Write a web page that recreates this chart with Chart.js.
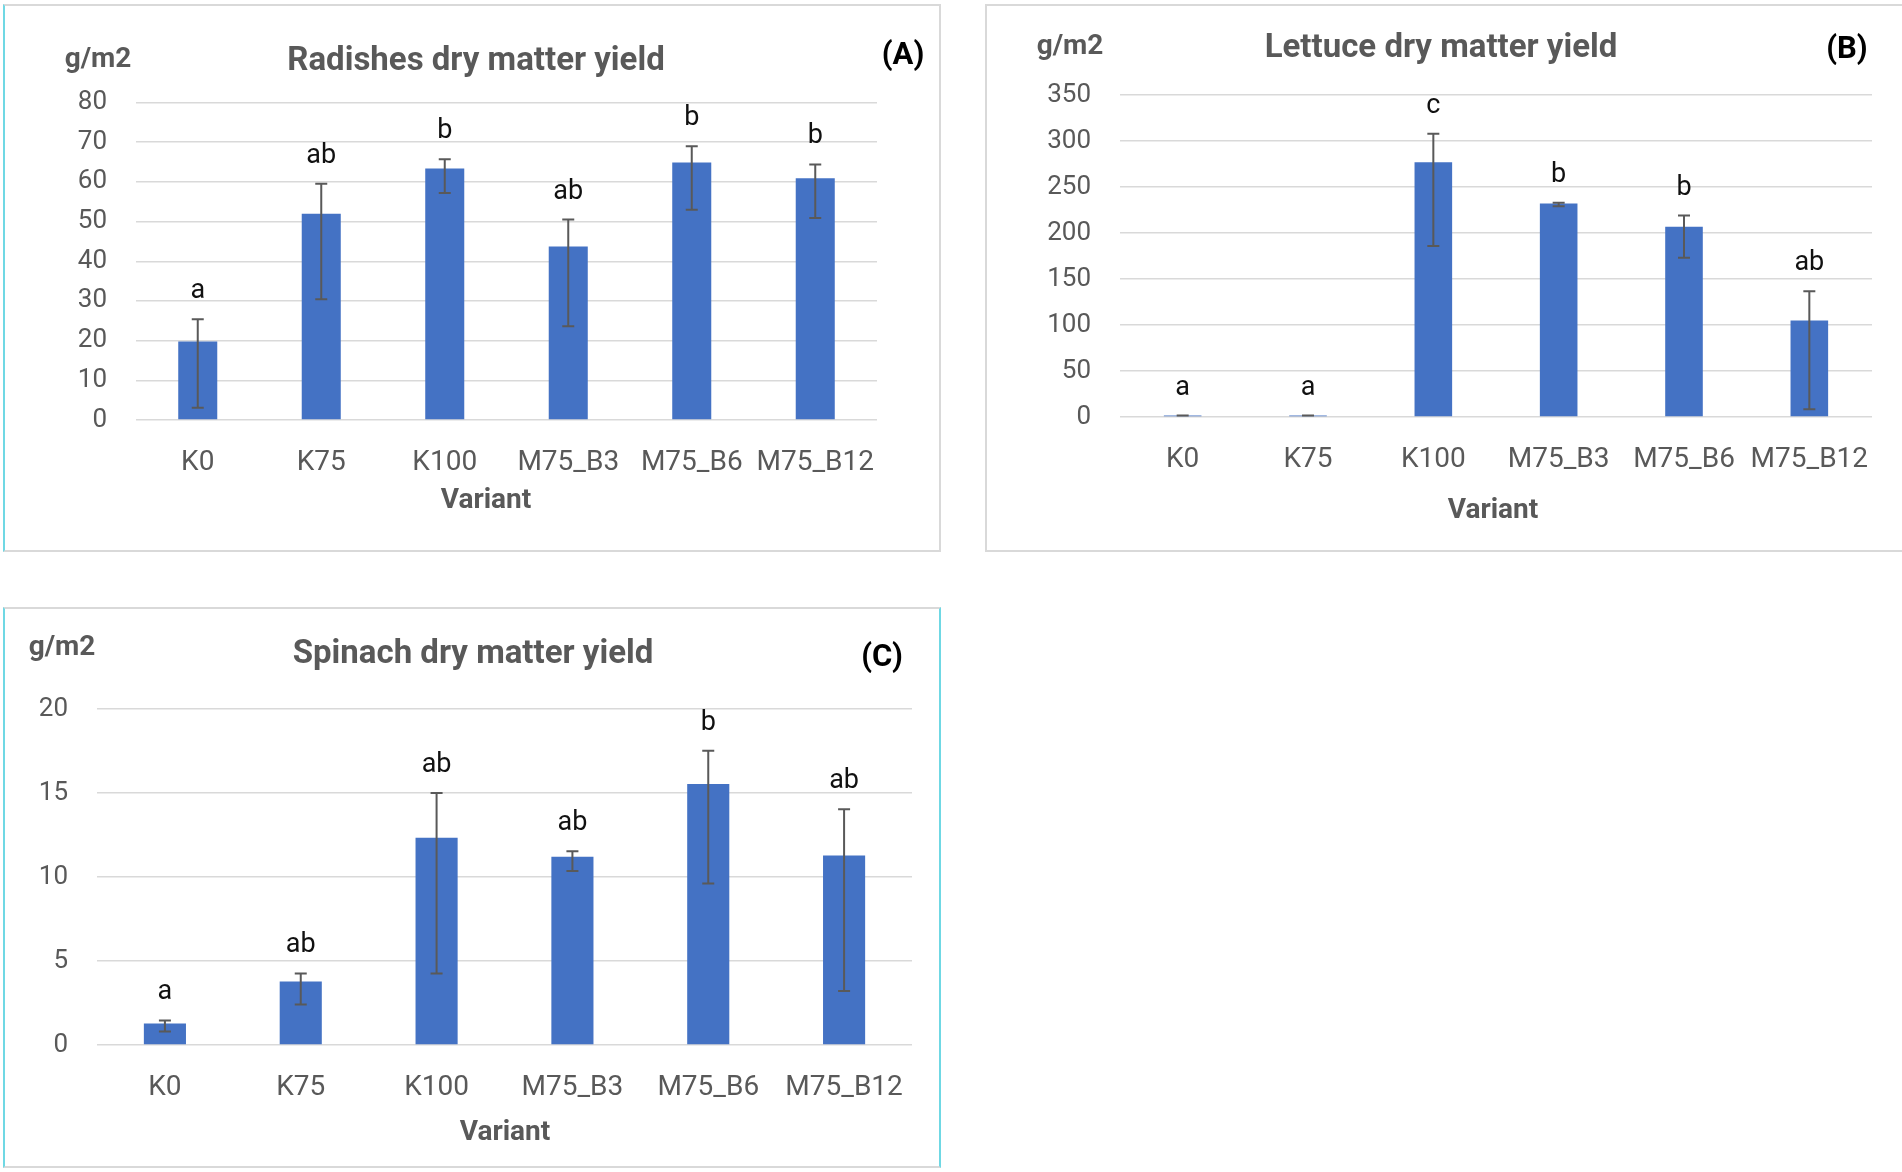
<!DOCTYPE html>
<html>
<head>
<meta charset="utf-8">
<script src="https://cdn.jsdelivr.net/npm/chart.js@4.4.1/dist/chart.umd.min.js"></script>
<style>
  body { margin: 0; background: #fff; width: 1902px; height: 1172px; position: relative; overflow: hidden; }
  .panel { position: absolute; box-sizing: border-box; border: 2px solid #d9d9d9; background: #fff; }
  .panel canvas { display: block; }
</style>
</head>
<body>
<div class="panel" style="left:3px;top:4px;width:938px;height:548px;border-left-color:#6fd8e4;">
  <canvas id="chartA" width="934" height="544"></canvas>
</div>
<div class="panel" style="left:985px;top:4px;width:917px;height:548px;border-right:none;">
  <canvas id="chartB" width="915" height="544"></canvas>
</div>
<div class="panel" style="left:3px;top:607px;width:938px;height:561px;border-left-color:#6fd8e4;border-right-color:#6fd8e4;">
  <canvas id="chartC" width="934" height="557"></canvas>
</div>
<script>
var FONT = 'Roboto, "Liberation Sans", sans-serif';

var variants = ['K0', 'K75', 'K100', 'M75_B3', 'M75_B6', 'M75_B12'];

// (A) radishes
var radishMean = [19.8, 52.0, 63.4, 43.7, 64.9, 60.9];
var radishLow = [3.1, 30.4, 57.2, 23.6, 53.0, 50.9];
var radishHigh = [25.4, 59.5, 65.7, 50.5, 69.0, 64.4];
var radishLetters = ['a', 'ab', 'b', 'ab', 'b', 'b'];
var radishAxis = { max: 80, step: 10 };

// (B) lettuce
var lettuceMean = [1.5, 1.5, 277, 232, 206.7, 105];
var lettuceLow = [1.5, 1.5, 186, 229, 173, 8.5];
var lettuceHigh = [1.5, 1.5, 308, 233, 219, 136.8];
var lettuceLetters = ['a', 'a', 'c', 'b', 'b', 'ab'];
var lettuceAxis = { max: 350, step: 50 };

// (C) spinach
var spinachMean = [1.28, 3.78, 12.33, 11.2, 15.54, 11.28];
var spinachLow = [0.80, 2.41, 4.26, 10.35, 9.61, 3.22];
var spinachHigh = [1.46, 4.26, 15.0, 11.54, 17.52, 14.04];
var spinachLetters = ['a', 'ab', 'ab', 'ab', 'b', 'ab'];
var spinachAxis = { max: 20, step: 5 };

// error bars, significance letters and the header / axis texts
var decorPlugin = {
    id: 'decor',
    afterDatasetsDraw: function (chart, args, opts) {
        var ctx = chart.ctx;
        var xs = chart.scales.x;
        var ys = chart.scales.y;
        ctx.save();
        for (var i = 0; i < opts.low.length; i++) {
            var px = xs.getPixelForValue(i);
            var yLo = ys.getPixelForValue(opts.low[i]);
            var yHi = ys.getPixelForValue(opts.high[i]);
            ctx.strokeStyle = '#595959';
            ctx.lineWidth = 2;
            ctx.beginPath();
            ctx.moveTo(px, yLo); ctx.lineTo(px, yHi);
            ctx.moveTo(px - 6, yLo); ctx.lineTo(px + 6, yLo);
            ctx.moveTo(px - 6, yHi); ctx.lineTo(px + 6, yHi);
            ctx.stroke();

            ctx.fillStyle = '#111';
            ctx.font = '27px ' + FONT;
            ctx.textAlign = 'center';
            ctx.textBaseline = 'alphabetic';
            ctx.fillText(opts.letters[i], px, yHi - 21);
        }

        ctx.textBaseline = 'alphabetic';
        ctx.textAlign = 'center';
        ctx.fillStyle = '#595959';
        ctx.font = 'bold 33px ' + FONT;
        ctx.fillText(opts.title, opts.titlePos[0], opts.titlePos[1]);
        ctx.font = 'bold 28px ' + FONT;
        ctx.fillText('g/m2', opts.unitPos[0], opts.unitPos[1]);
        ctx.textBaseline = 'middle';
        ctx.fillText('Variant', opts.varPos[0], opts.varPos[1]);
        ctx.textBaseline = 'alphabetic';
        ctx.fillStyle = '#000';
        ctx.font = 'bold 31px ' + FONT;
        ctx.fillText(opts.tag, opts.tagPos[0], opts.tagPos[1]);
        ctx.restore();
    }
};

function makeChart(id, mean, low, high, letters, axis, cfg) {
    return new Chart(document.getElementById(id).getContext('2d'), {
        type: 'bar',
        data: {
            labels: variants,
            datasets: [{
                data: mean,
                backgroundColor: '#4472C4',
                barPercentage: 1,
                categoryPercentage: cfg.barShare
            }]
        },
        options: {
            responsive: false,
            animation: false,
            events: [],
            layout: {
                padding: { left: 0, right: cfg.right, top: cfg.top, bottom: 0 }
            },
            plugins: {
                legend: { display: false },
                tooltip: { enabled: false },
                decor: {
                    low: low,
                    high: high,
                    letters: letters,
                    title: cfg.title,
                    titlePos: cfg.titlePos,
                    unitPos: cfg.unitPos,
                    tag: cfg.tag,
                    tagPos: cfg.tagPos,
                    varPos: cfg.varPos
                }
            },
            scales: {
                x: {
                    grid: { display: false },
                    border: { display: false },
                    ticks: {
                        color: '#595959',
                        font: { family: FONT, size: 28 },
                        padding: 18,
                        maxRotation: 0,
                        autoSkip: false
                    },
                    afterFit: function (scale) { scale.height = cfg.xHeight; }
                },
                y: {
                    min: 0,
                    max: axis.max,
                    border: { display: false },
                    grid: { color: '#d9d9d9', lineWidth: 1.5, drawTicks: false },
                    ticks: {
                        stepSize: axis.step,
                        color: '#595959',
                        font: { family: FONT, size: 26 },
                        padding: 29
                    },
                    afterFit: function (scale) { scale.width = cfg.yWidth; }
                }
            }
        },
        plugins: [decorPlugin]
    });
}

makeChart('chartA', radishMean, radishLow, radishHigh, radishLetters, radishAxis, {
    title: 'Radishes dry matter yield', titlePos: [471, 64], unitPos: [93, 61],
    tag: '(A)', tagPos: [898, 58], varPos: [481, 495],
    top: 96.5, right: 62, yWidth: 131, xHeight: 130, barShare: 0.316
});

makeChart('chartB', lettuceMean, lettuceLow, lettuceHigh, lettuceLetters, lettuceAxis, {
    title: 'Lettuce dry matter yield', titlePos: [454, 51], unitPos: [83, 48],
    tag: '(B)', tagPos: [860, 52], varPos: [506, 505],
    top: 89, right: 30, yWidth: 133, xHeight: 133, barShare: 0.30
});

makeChart('chartC', spinachMean, spinachLow, spinachHigh, spinachLetters, spinachAxis, {
    title: 'Spinach dry matter yield', titlePos: [468, 54], unitPos: [57, 46],
    tag: '(C)', tagPos: [877, 57], varPos: [500, 524],
    top: 100, right: 27, yWidth: 92, xHeight: 121, barShare: 0.31
});
</script>
</body>
</html>
